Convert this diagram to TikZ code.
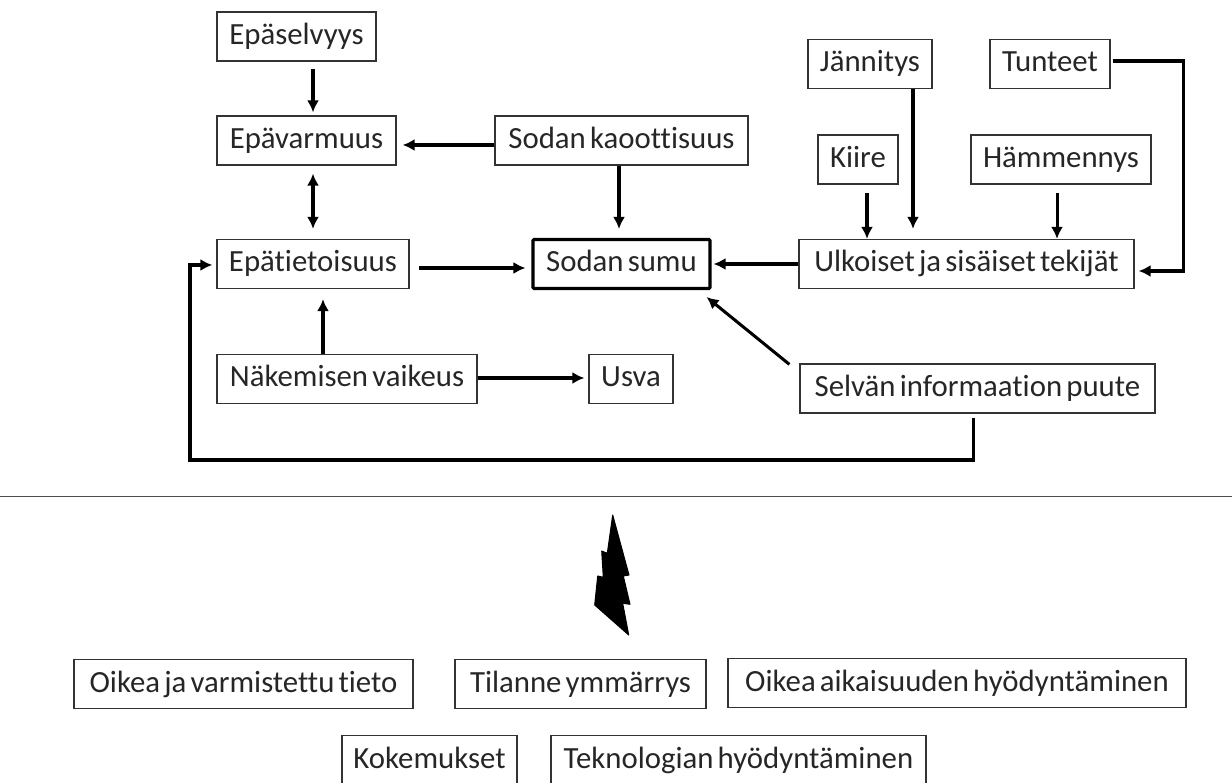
\documentclass[tikz,border=0pt]{standalone}
\usepackage{fontspec}
\setmainfont[WordSpace=0.6,Ligatures={NoCommon}]{Carlito}
\usetikzlibrary{arrows.meta}
\tikzstyle{factor} = [rectangle, draw=black!80, line width=1.2pt, inner sep=0pt,
    text=black!85, text height=20pt, text depth=4pt, font=\fontsize{30.8}{34}\selectfont,
    minimum height=49pt, text centered]
\tikzstyle{mainfactor} = [factor, draw=black, line width=3.02pt, rounded corners=1pt]
\tikzstyle{link} = [draw=black, line width=3.02pt, line join=round,
    -{Latex[length=12pt,width=12pt]}]
\tikzstyle{linkboth} = [link, {Latex[length=12pt,width=12pt]}-{Latex[length=12pt,width=12pt]}]

\begin{document}
\begin{tikzpicture}[x=1pt,y=-1pt]
	\useasboundingbox (0,0) rectangle (1232,783);
	\node [factor, minimum width=159pt] (epaselvyys) at (296.5,36.5) {Epäselvyys};
	\node [factor, minimum width=179pt] (epavarmuus) at (306.5,140.5) {Epävarmuus};
	\node [factor, minimum width=192pt] (epatieto) at (313,264) {Epätietoisuus};
	\node [factor, minimum width=260pt] (nakeminen) at (347,379) {Näkemisen vaikeus};
	\node [factor, minimum width=84pt] (usva) at (631,379) {Usva};
	%
	\node [factor, minimum width=253pt] (kaaos) at (621.5,140.5) {Sodan kaoottisuus};
	\node [mainfactor, minimum width=177pt] (sumu) at (621.5,264) {Sodan sumu};
	\node [factor, minimum width=355pt] (selvan) at (977.5,388.5) {Selvän informaation puute};
	%
	\node [factor, minimum width=124pt] (jannitys) at (870,64) {Jännitys};
	\node [factor, minimum width=120pt] (tunteet) at (1050,64) {Tunteet};
	\node [factor, minimum width=80pt] (kiire) at (858,159.5) {Kiire};
	\node [factor, minimum width=180pt] (hammennys) at (1061,159.5) {Hämmennys};
	\node [factor, minimum width=335pt] (ulkoiset) at (966.5,264) {Ulkoiset ja sisäiset tekijät};
	%
	\node [factor, minimum width=339pt] (tieto) at (243.5,684) {Oikea ja varmistettu tieto};
	\node [factor, minimum width=251pt] (tilanne) at (580.5,684) {Tilanne ymmärrys};
	\node [factor, minimum width=458pt] (aikaisuus) at (957,683) {Oikea aikaisuuden hyödyntäminen};
	\node [factor, minimum width=175pt] (kokemukset) at (429.5,760) {Kokemukset};
	\node [factor, minimum width=375pt] (teknologia) at (738.5,760) {Teknologian hyödyntäminen};
	%
	\coordinate (tunteetyla) at (1183,61);
	\coordinate (tunteetala) at (1183,271);
	\coordinate (selvankulma) at (973,460);
	\coordinate (epakulma) at (190,265);
	\coordinate (viivaa) at (0,496.5);
	\coordinate (viivab) at (1232,496.5);
	%
	\draw [link] ([xshift=16.5pt,yshift=-7pt]epaselvyys.south) -- ([xshift=6.5pt,yshift=3pt]epavarmuus.north);
	\draw [link] ([yshift=-4.5pt]kaaos.west) -- ([xshift=6pt,yshift=-4.5pt]epavarmuus.east);
	\draw [linkboth] ([xshift=6.5pt,yshift=-8pt]epavarmuus.south) -- ([yshift=10pt]epatieto.north);
	\draw [link] ([xshift=-2.5pt]kaaos.south) -- ([xshift=-2.5pt,yshift=9pt]sumu.north);
	\draw [link] ([xshift=9pt,yshift=-4pt]epatieto.east) -- ([xshift=-6pt,yshift=-4pt]sumu.west);
	\draw [link] ([xshift=-24pt]nakeminen.north) -- ([xshift=10pt,yshift=-10pt]epatieto.south);
	\draw [link] ([yshift=1pt]nakeminen.east) -- ([xshift=-4pt,yshift=1pt]usva.west);
	\draw [link] (ulkoiset.west) -- ([xshift=2pt]sumu.east);
	\draw [link] ([xshift=-10pt,yshift=-1pt]selvan.north west) -- ([xshift=-5pt,yshift=-7pt]sumu.south east);
	\draw [link, line join=miter] ([xshift=-4.5pt,yshift=-4pt]selvan.south) -- (selvankulma) -- (epakulma |- selvankulma) -- (epakulma) -- ([xshift=-4pt,yshift=-1pt]epatieto.west);
	\draw [link] ([xshift=9pt,yshift=-8pt]kiire.south) -- ([xshift=-99.5pt]ulkoiset.north);
	\draw [link] ([xshift=43pt]jannitys.south) -- ([xshift=-53.5pt,yshift=10pt]ulkoiset.north);
	\draw [link] ([xshift=-4pt,yshift=-8pt]hammennys.south) -- ([xshift=90.5pt]ulkoiset.north);
	\draw [link, line join=miter] ([xshift=2pt,yshift=3pt]tunteet.east) -- (tunteetyla) -- (tunteetala) -- ([xshift=4pt,yshift=-7pt]ulkoiset.east);
	%
	\draw [black!70, line width=1.3pt] (viivaa) -- (viivab);
	\fill [black, draw=black, line width=1pt, line join=round] (612.7,515) -- (629,575) -- (623.3,576) -- (630,604.3) -- (622.7,603.3) -- (628.7,635) -- (594.7,605) -- (597.7,576) -- (603.3,577.3) -- (601.7,551) -- (607.3,553.3) -- cycle;
\end{tikzpicture}
\end{document}
